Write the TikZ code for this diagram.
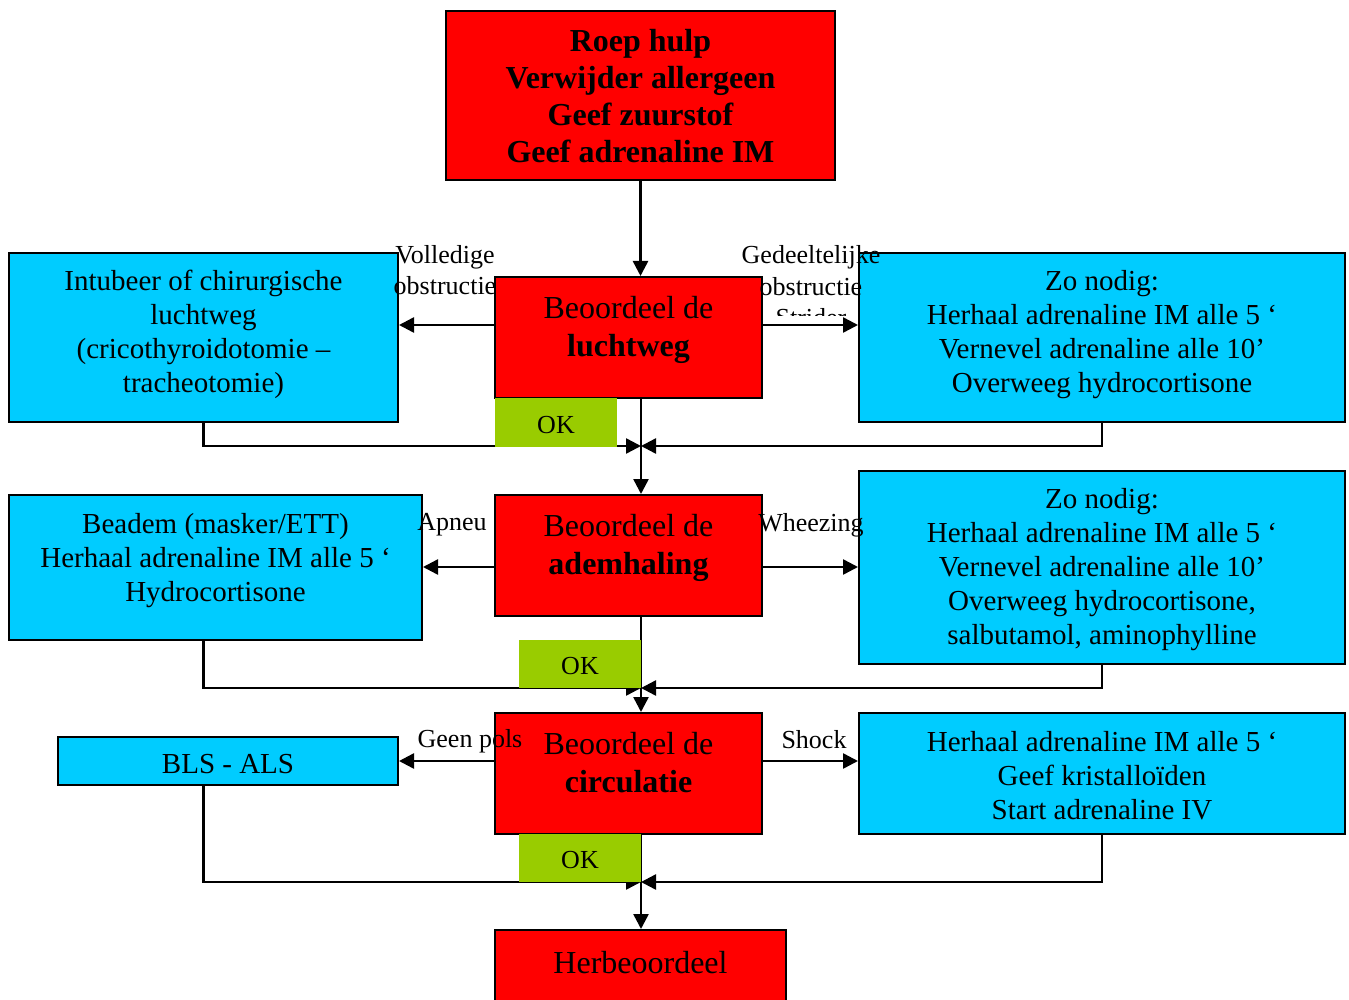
\documentclass[tikz,border=0pt]{standalone}
\usepackage{fontspec}
\setmainfont{Liberation Serif}
\usetikzlibrary{arrows.meta}

\definecolor{alarmred}{HTML}{FF0000}
\definecolor{actblue}{HTML}{00CCFF}
\definecolor{okgreen}{HTML}{99CC00}

\newcommand{\lift}[1]{\rule{0pt}{#1}}

\tikzset{
  arr/.style={-{Triangle[length=15pt,width=15pt]}},
  lbl/.style={inner sep=0pt,align=center,font=\fontsize{26}{31.5}\selectfont}
}

\begin{document}
\begin{tikzpicture}[x=1pt,y=-1pt,line width=2.5pt]

        \useasboundingbox (0,0) rectangle (1349,1000);

        % spine levels
        \coordinate (a1) at (641,325);
        \coordinate (a2) at (641,567);
        \coordinate (a3) at (641,761);
        \coordinate (j1) at (641,446);
        \coordinate (j2) at (641,688);
        \coordinate (j3) at (641,882);

        \begin{scope}[every node/.style={rectangle,draw,line width=2pt,fill=actblue,align=center,
            minimum width=486pt,font=\fontsize{29}{34}\selectfont}]
          \node[minimum width=389pt,minimum height=169pt,text depth=12pt] (intub) at (203.5,337.5)
            {Intubeer of chirurgische\\luchtweg\\(cricothyroidotomie –\\tracheotomie)};
          \node[minimum height=169pt,text depth=12pt] (zo1) at (1102,337.5)
            {Zo nodig:\\Herhaal adrenaline IM alle 5 ‘\\Vernevel adrenaline alle 10’\\Overweeg hydrocortisone};
          \node[minimum width=413pt,minimum height=145pt,text depth=20pt] (beadem) at (215.5,567.5)
            {Beadem (masker/ETT)\\Herhaal adrenaline IM alle 5 ‘\\Hydrocortisone};
          \node[minimum height=193pt] (zo2) at (1102,567.5)
            {\lift{24pt}Zo nodig:\\Herhaal adrenaline IM alle 5 ‘\\Vernevel adrenaline alle 10’\\Overweeg hydrocortisone,\\salbutamol, aminophylline};
          \node[minimum width=340pt,minimum height=48pt] (bls) at (228,761) {\lift{25pt}BLS - ALS};
          \node[minimum height=121pt] (herh3) at (1102,773.5)
            {\lift{24pt}Herhaal adrenaline IM alle 5 ‘\\Geef kristalloïden\\Start adrenaline IV};
        \end{scope}

        \node[lbl] (voll) at (445,270) {Volledige\\obstructie};

        \begin{scope}[every node/.style={rectangle,draw,line width=2pt,fill=alarmred,align=center,
            minimum width=267pt,minimum height=121pt,text depth=23pt,font=\fontsize{32}{38}\selectfont}]
          \node[minimum width=389pt,minimum height=169pt,text depth=0pt,
            font=\fontsize{32}{37}\selectfont\bfseries] (top) at (640.5,95.5)
            {\lift{24pt}Roep hulp\\Verwijder allergeen\\Geef zuurstof\\Geef adrenaline IM};
          \node (lucht) at (628.5,337.5) {Beoordeel de\\\textbf{luchtweg}};
          \node (adem) at (628.5,555.5) {Beoordeel de\\\textbf{ademhaling}};
          \node[text depth=22pt] (circ) at (628.5,773.5) {Beoordeel de\\\textbf{circulatie}};
          \node[minimum width=291pt,minimum height=80pt,text depth=15pt] (herb) at (640.5,970) {Herbeoordeel};
        \end{scope}

        % main line
        \draw[arr] (top.south) -- (top.south |- lucht.north);
        \draw[arr] (lucht.south -| j1) -- (adem.north -| j1);
        \draw[arr] (adem.south -| j2) -- (circ.north -| j2);
        \draw[arr] (circ.south -| j3) -- (herb.north -| j3);

        % side branches
        \draw[arr] (lucht.west |- a1) -- (intub.east |- a1);
        \draw[arr] (lucht.east |- a1) -- (zo1.west |- a1);
        \draw[arr] (adem.west |- a2) -- (beadem.east |- a2);
        \draw[arr] (adem.east |- a2) -- (zo2.west |- a2);
        \draw[arr] (circ.west |- a3) -- (bls.east |- a3);
        \draw[arr] (circ.east |- a3) -- (herh3.west |- a3);

        % back to the main line
        \draw[arr] (intub.south) |- (j1);
        \draw[arr] (zo1.south) |- (j1);
        \draw[arr] (beadem.south -| intub.south) |- (j2);
        \draw[arr] (zo2.south) |- (j2);
        \draw[arr] (bls.south -| intub.south) |- (j3);
        \draw[arr] (herh3.south) |- (j3);

        \begin{scope}[every node/.style={fill=okgreen,minimum width=122pt,minimum height=48.5pt,
            font=\fontsize{26}{30}\selectfont}]
          \node (ok1) at (556,422.5) {\lift{21.5pt}OK};
          \node (ok2) at (580,664) {\lift{21.5pt}OK};
          \node (ok3) at (580,858) {\lift{21.5pt}OK};
        \end{scope}

        \begin{scope}
          \clip (700,230) rectangle (900,315);
          \node[lbl] (gedeel) at (811,286.5) {Gedeeltelijke\\obstructie\\Strider};
        \end{scope}
        \node[lbl] (apneu) at (452,525) {Apneu};
        \node[lbl] (wheez) at (811,525) {Wheezing};
        \node[lbl] (geen) at (470,741) {Geen pols};
        \node[lbl] (shock) at (814,740) {Shock};

      \end{tikzpicture}
\end{document}
